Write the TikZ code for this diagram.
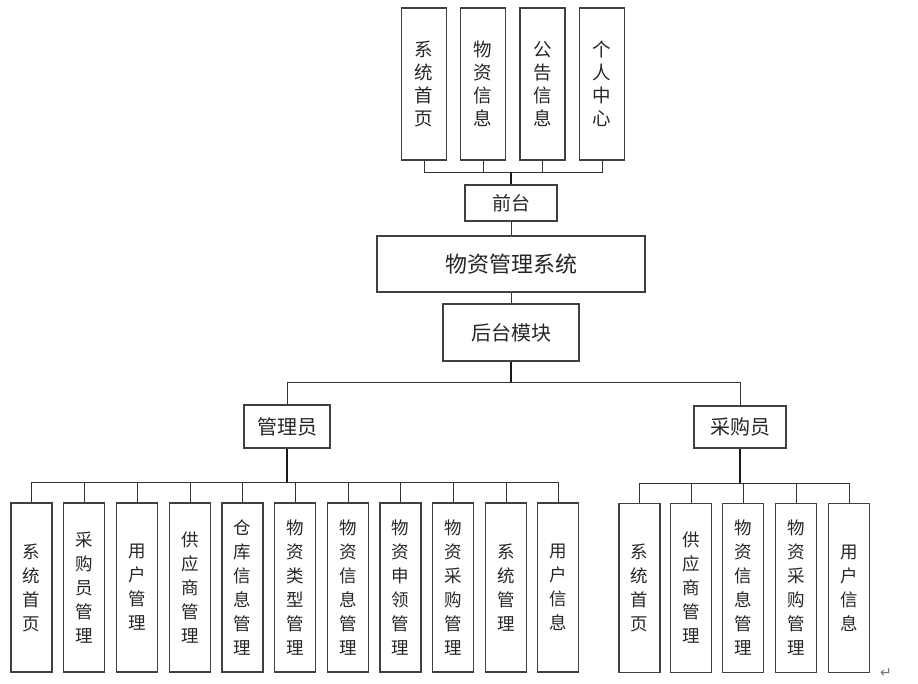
\documentclass[tikz,border=0pt]{standalone}
\usepackage{fontspec}
\newfontfamily\cjk{Noto Sans CJK SC}
\newfontfamily\djv{DejaVu Sans}
\begin{document}
\begin{tikzpicture}[x=1pt,y=-1pt,
  box/.style={draw=black!75, line width=1.1pt, inner sep=0pt, align=center, text=black!85},
  vtop/.style={box, minimum width=45pt, minimum height=152pt, font=\cjk\fontsize{18.5}{23}\selectfont},
  vbot/.style={box, minimum width=41pt, minimum height=169pt, font=\cjk\fontsize{17.5}{24}\selectfont},
  conn/.style={draw=black!80, line width=0.9pt},
  boldconn/.style={draw=black!90, line width=1.7pt}]
\useasboundingbox (0,0) rectangle (918,683);
% top modules
\node[vtop] (t1) at (424,84) {系\\统\\首\\页};
\node[vtop] (t2) at (483,84) {物\\资\\信\\息};
\node[vtop] (t3) at (542.5,84) {公\\告\\信\\息};
\node[vtop] (t4) at (602,84) {个\\人\\中\\心};
\node[box, minimum width=92pt, minimum height=36pt, font=\cjk\fontsize{19}{22}\selectfont] (qt) at (511,203) {前台};
\node[box, minimum width=268pt, minimum height=56pt, font=\cjk\fontsize{22}{26}\selectfont] (sys) at (511,264) {物资管理系统};
\node[box, minimum width=136pt, minimum height=57pt, font=\cjk\fontsize{20}{24}\selectfont] (ht) at (511,332.5) {后台模块};
\node[box, minimum width=86pt, minimum height=43pt, font=\cjk\fontsize{20}{24}\selectfont] (gly) at (287,426.5) {管理员};
\node[box, minimum width=92pt, minimum height=42pt, font=\cjk\fontsize{20}{24}\selectfont] (cgy) at (740,427) {采购员};
% admin modules
\node[vbot] (l1) at (31.5,587.5) {系\\统\\首\\页};
\node[vbot] (l2) at (84,587.5) {采\\购\\员\\管\\理};
\node[vbot] (l3) at (137,587.5) {用\\户\\管\\理};
\node[vbot] (l4) at (190,587.5) {供\\应\\商\\管\\理};
\node[vbot] (l5) at (242.5,587.5) {仓\\库\\信\\息\\管\\理};
\node[vbot] (l6) at (295,587.5) {物\\资\\类\\型\\管\\理};
\node[vbot] (l7) at (348,587.5) {物\\资\\信\\息\\管\\理};
\node[vbot] (l8) at (400.5,587.5) {物\\资\\申\\领\\管\\理};
\node[vbot] (l9) at (453,587.5) {物\\资\\采\\购\\管\\理};
\node[vbot] (l10) at (506,587.5) {系\\统\\管\\理};
\node[vbot] (l11) at (558,587.5) {用\\户\\信\\息};
% buyer modules
\node[vbot] (r1) at (639.5,588) {系\\统\\首\\页};
\node[vbot] (r2) at (691,588) {供\\应\\商\\管\\理};
\node[vbot] (r3) at (743,588) {物\\资\\信\\息\\管\\理};
\node[vbot] (r4) at (796,588) {物\\资\\采\\购\\管\\理};
\node[vbot] (r5) at (849,588) {用\\户\\信\\息};
% junctions
\coordinate (tb) at (511,172);
\coordinate (hb) at (511,382);
\coordinate (gb) at (287,482);
\coordinate (cb) at (740,483);
% connectors
\foreach \n in {t1,t2,t3,t4} \draw[conn] (\n.south) |- (tb);
\draw[boldconn] (tb) -- (qt.north);
\draw[conn] (qt.south) -- (sys.north);
\draw[conn] (sys.south) -- (ht.north);
\draw[boldconn] (ht.south) -- (hb);
\draw[conn] (hb) -| (gly.north);
\draw[conn] (hb) -| (cgy.north);
\draw[boldconn] (gly.south) -- (gb);
\foreach \n in {l1,l2,l3,l4,l5,l6,l7,l8,l9,l10,l11} \draw[conn] (gb) -| (\n.north);
\draw[boldconn] (cgy.south) -- (cb);
\foreach \n in {r1,r2,r3,r4,r5} \draw[conn] (cb) -| (\n.north);
% paragraph mark
\node[text=black!55, font=\djv\fontsize{14}{14}\selectfont, inner sep=0pt] (pm) at (886,673) {↵};
\end{tikzpicture}
\end{document}
